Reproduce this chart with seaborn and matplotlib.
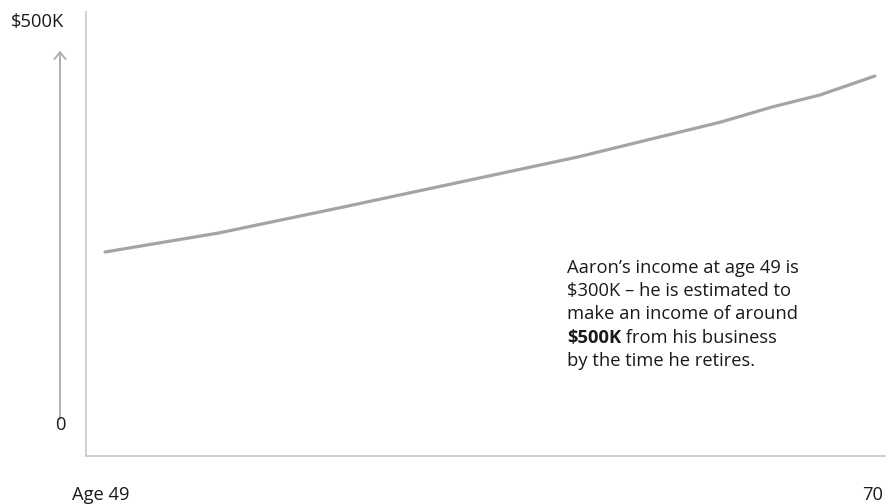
import matplotlib
matplotlib.use("Agg")
import matplotlib.pyplot as plt
import seaborn as sns
import pandas as pd

# Data (age vs income in $K)
ages = [49, 52.1, 55.5, 61.9, 65.8, 67.2, 68.5, 70]
income_k = [300, 321.6, 351.1, 408.0, 447.7, 464.8, 478.4, 500]
y_top_label = "$500K"
y_bottom_label = "0"
x_left_label = "Age 49"
x_right_label = "70"
note_lines = ["Aaron\u2019s income at age 49 is",
              "$300K \u2013 he is estimated to",
              "make an income of around"]
note_bold = "$500K"
note_rest = " from his business"
note_last = "by the time he retires."

sns.set_style("white")
plt.rcParams['font.family'] = ['Open Sans', 'DejaVu Sans']

W, H = 887, 504
fig = plt.figure(figsize=(W / 100, H / 100), dpi=100)
ax = fig.add_axes([86 / W, (H - 456) / H, (W - 86) / W, (456 - 12) / H])

df = pd.DataFrame({"age": ages, "income": income_k})
sns.lineplot(data=df, x="age", y="income", ax=ax, color="#a1a6a1", linewidth=2.3)

ax.set_xlim(48.48, 70.33)
ax.set_ylim(68.2, 572.7)
ax.set_xticks([])
ax.set_yticks([])
ax.set_xlabel("")
ax.set_ylabel("")
for s in ["top", "right"]:
    ax.spines[s].set_visible(False)
for s in ["left", "bottom"]:
    ax.spines[s].set_color("#cccccc")
    ax.spines[s].set_linewidth(1.3)

def fx(px):
    return px / W

def fy(py):
    return 1 - py / H

# y arrow
fig.add_artist(matplotlib.patches.FancyArrowPatch(
    (fx(60), fy(422)), (fx(60), fy(48)), transform=fig.transFigure,
    arrowstyle="->,head_length=5,head_width=4", color="#aaaaaa",
    linewidth=1.3, mutation_scale=1))

fs = 13.2
tc = "#1a1a1a"
fig.text(fx(38), fy(22), y_top_label, ha="center", va="center", fontsize=fs,
         color=tc, parse_math=False)
fig.text(fx(60), fy(425), y_bottom_label, ha="center", va="center", fontsize=fs,
         color=tc, parse_math=False)
fig.text(fx(101), fy(495), x_left_label, ha="center", va="center", fontsize=fs,
         color=tc, parse_math=False)
fig.text(fx(883), fy(495), x_right_label, ha="right", va="center", fontsize=fs,
         color=tc, parse_math=False)

nfs = 13.2
y0 = 268
dy = 23.2
for i, line in enumerate(note_lines):
    fig.text(fx(567), fy(y0 + i * dy), line, ha="left", va="center",
             fontsize=nfs, color=tc, parse_math=False)
bt = fig.text(fx(567), fy(y0 + 3 * dy), note_bold, ha="left", va="center",
              fontsize=nfs, color=tc, fontweight="bold", parse_math=False)
fig.add_artist(matplotlib.text.Annotation(
    note_rest, xy=(1, 0.5), xycoords=bt, ha="left", va="center",
    fontsize=nfs, color=tc, parse_math=False))
fig.text(fx(567), fy(y0 + 4 * dy), note_last, ha="left", va="center",
         fontsize=nfs, color=tc, parse_math=False)

fig.savefig("out.png", dpi=100)
